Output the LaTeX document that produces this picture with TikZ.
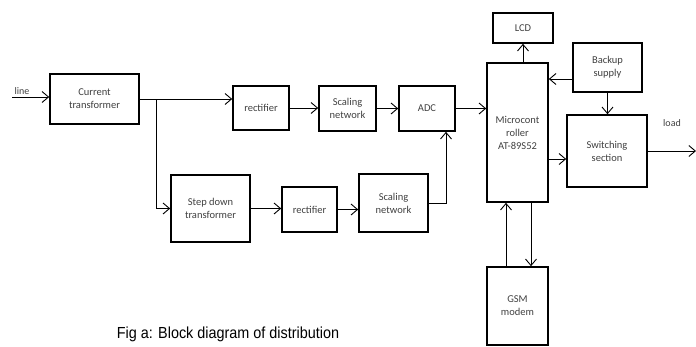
\documentclass[tikz,border=0pt]{standalone}
\usepackage{fontspec}
\setmainfont{Carlito}
\newfontfamily\capfont{Liberation Sans}
\usetikzlibrary{arrows.meta,positioning}

\begin{document}
\begin{tikzpicture}[x=1pt,y=-1pt,>={Straight Barb[length=6.5pt,width=11pt]},
	blk/.style={draw,line width=1.6pt,align=center,inner sep=0pt,
		font=\fontsize{10.5}{13}\selectfont,text=black!75},
	conn/.style={line width=0.9pt}]
	\useasboundingbox (0,0) rectangle (696,346);
	% first row
	\node[blk,minimum width=89,minimum height=50] at (94.5,99) (ct) {Current\\transformer};
	\node[blk,minimum width=56,minimum height=44] at (261,108) (rectA) {rectifier};
	\node[blk,minimum width=57,minimum height=45] at (347.5,108.5) (scaleA) {Scaling\\network};
	\node[blk,minimum width=56,minimum height=45] at (427,108.5) (adc) {ADC};
	% second row
	\node[blk,minimum width=79,minimum height=67] at (210.5,208.5) (stepdn) {Step down\\transformer};
	\node[blk,minimum width=55,minimum height=45] at (309.5,209.5) (rectB) {rectifier};
	\node[blk,minimum width=69,minimum height=58] at (393.5,203) (scaleB) {Scaling\\network};
	% controller side
	\node[blk,minimum width=61,minimum height=139] at (517.5,132.5) (mcu) {Microcont\\roller\\AT-89S52};
	\node[blk,minimum width=60,minimum height=30] at (523,28) (lcd) {LCD};
	\node[blk,minimum width=69,minimum height=49] at (607.5,67.5) (backup) {Backup\\supply};
	\node[blk,minimum width=80,minimum height=72] at (607,151) (switch) {Switching\\section};
	\node[blk,minimum width=61,minimum height=78] at (517.5,306) (gsm) {GSM\\modem};
	% texts
	\node[font=\fontsize{10}{11}\selectfont,text=black!75] at (22,91) (lin) {line};
	\node[font=\fontsize{10}{11}\selectfont,text=black!75] at (672,123) (ldtxt) {load};
	\node[font=\capfont\fontsize{16}{18}\selectfont,xscale=0.9,transform shape] at (228,334) (cap) {Fig a: Block diagram of distribution};

	\coordinate (linein) at (12,97);
	\coordinate (br) at (156,99);
	\coordinate (bk) at ([yshift=-11.5pt]backup.west);
	\coordinate (sw) at ([yshift=-8pt]switch.west);
	\coordinate (ldout) at (696,151);

	\draw[conn,->] (linein) -- (linein -| ct.west);
	\draw[conn,->] (ct.east) -- (ct.east -| rectA.west);
	\draw[conn,->] (br) |- (stepdn.west);
	\draw[conn,->] (rectA.east) -- (rectA.east -| scaleA.west);
	\draw[conn,->] (scaleA.east) -- (scaleA.east -| adc.west);
	\draw[conn,->] (adc.east) -- (adc.east -| mcu.west);
	\draw[conn,->] (stepdn.east) -- (stepdn.east -| rectB.west);
	\draw[conn,->] (rectB.east) -- (rectB.east -| scaleB.west);
	\draw[conn,->] (scaleB.east) -| ([xshift=19pt]adc.south);
	\draw[conn,->] (mcu.north -| lcd.south) -- (lcd.south);
	\draw[conn,->] (bk) -- (bk -| mcu.east);
	\draw[conn,->] (backup.south) -- (backup.south |- switch.north);
	\draw[conn,->] (sw -| mcu.east) -- (sw);
	\draw[conn,->] (switch.east) -- (ldout);
	\draw[conn,->] ([xshift=-11.5pt]gsm.north) -- ([xshift=-11.5pt]mcu.south);
	\draw[conn,->] ([xshift=13.5pt]mcu.south) -- ([xshift=13.5pt]gsm.north);
\end{tikzpicture}
\end{document}
